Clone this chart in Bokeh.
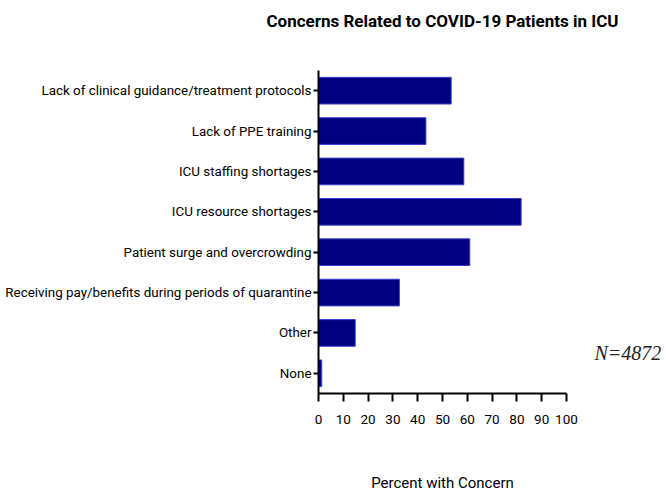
from bokeh.plotting import figure
from bokeh.models import Range1d, FixedTicker, LinearAxis, ColumnDataSource, Title
from bokeh.embed import file_html
from bokeh.resources import INLINE

categories = [
    "Lack of clinical guidance/treatment protocols",
    "Lack of PPE training",
    "ICU staffing shortages",
    "ICU resource shortages",
    "Patient surge and overcrowding",
    "Receiving pay/benefits during periods of quarantine",
    "Other",
    "None",
]
percent = [53.5, 43.3, 58.6, 81.7, 61.0, 32.6, 14.8, 1.3]
x_ticks = [0, 10, 20, 30, 40, 50, 60, 70, 80, 90, 100]
title_text = "Concerns Related to COVID-19 Patients in ICU"
x_label = "Percent with Concern"
n_text = "N=4872"

FONT = "Roboto"

n = len(categories)
slots = [n - 1 - i for i in range(n)]  # first category at the top
src = ColumnDataSource(dict(slot=slots, pct=percent, cat=categories))

p = figure(
    width=666, height=498, title=None,
    y_range=Range1d(-0.5, n - 0.5),
    x_range=Range1d(0, 100),
    output_backend="svg", toolbar_location=None,
    min_border_left=318, min_border_right=100,
    min_border_top=70, min_border_bottom=105,
)
p.hbar(y="slot", right="pct", height=0.66, source=src, fill_color="#000080",
       line_color="#3a3ad0", line_width=1)

# spacer between title and plot area, then the title itself
p.add_layout(Title(text=" ", text_font_size="34px", standoff=0), "above")
p.add_layout(Title(text=title_text, align="center", text_font=FONT,
                   text_font_style="bold", text_font_size="17px",
                   text_color="black", standoff=0), "above")

p.outline_line_color = None
p.xgrid.visible = False
p.ygrid.visible = False

p.xaxis.ticker = FixedTicker(ticks=x_ticks)
p.xaxis.minor_tick_line_color = None
p.xaxis.major_tick_out = 8
p.xaxis.major_tick_in = 0
p.xaxis.axis_line_width = 2
p.xaxis.major_tick_line_width = 2
p.xaxis.major_label_text_font = FONT
p.xaxis.major_label_text_font_size = "13.5px"
p.xaxis.major_label_text_color = "black"
p.xaxis.major_label_standoff = 13
p.xaxis.axis_label = x_label
p.xaxis.axis_label_text_font = FONT
p.xaxis.axis_label_text_font_size = "15px"
p.xaxis.axis_label_text_font_style = "normal"
p.xaxis.axis_label_text_color = "black"
p.xaxis.axis_label_standoff = 47

p.yaxis.ticker = FixedTicker(ticks=slots)
p.yaxis.major_label_overrides = {s: c for s, c in zip(slots, categories)}
p.yaxis.minor_tick_line_color = None
p.yaxis.major_tick_out = 5
p.yaxis.major_tick_in = 0
p.yaxis.axis_line_width = 2
p.yaxis.major_tick_line_width = 2
p.yaxis.major_label_text_font = FONT
p.yaxis.major_label_text_font_size = "13.4px"
p.yaxis.major_label_text_color = "black"
p.yaxis.major_label_standoff = 2

# sample-size note on the right side, drawn as a single-tick axis label
note_pos = 0.5
note_axis = LinearAxis(ticker=FixedTicker(ticks=[note_pos]),
                       major_label_overrides={note_pos: n_text})
note_axis.axis_line_color = None
note_axis.major_tick_line_color = None
note_axis.minor_tick_line_color = None
note_axis.major_tick_out = 0
note_axis.major_tick_in = 0
note_axis.major_label_standoff = 28
note_axis.major_label_text_font = "Liberation Serif"
note_axis.major_label_text_font_style = "italic"
note_axis.major_label_text_font_size = "20px"
note_axis.major_label_text_color = "#222222"
p.add_layout(note_axis, "right")

open("out.html", "w").write(file_html(p, INLINE))
